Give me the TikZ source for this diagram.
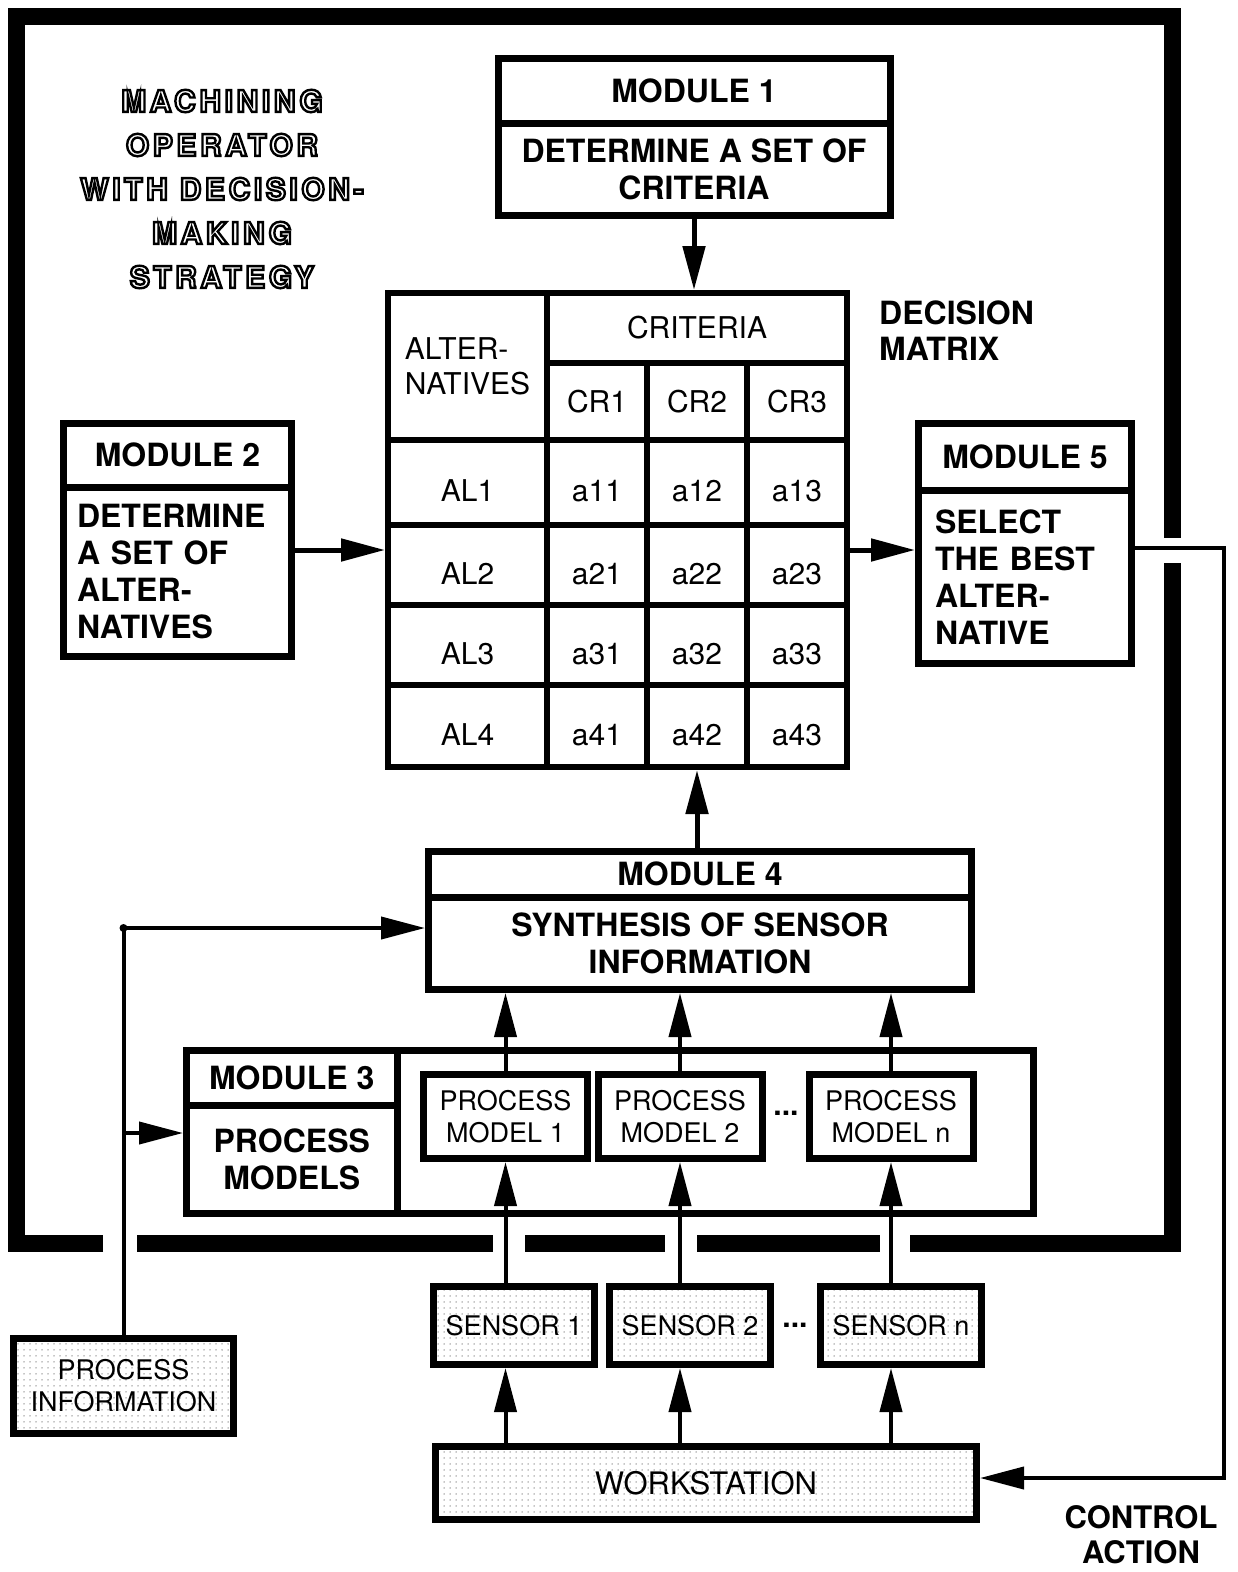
\documentclass[tikz,border=0pt]{standalone}
\usepackage{fontspec}
\setmainfont{TeX Gyre Heros}
\newfontfamily\titlefont[LetterSpace=12]{TeX Gyre Heros}
\usetikzlibrary{arrows.meta,patterns.meta}

% hollow lettering: glyph outlines stroked, not filled
\newcommand\hollow[1]{%
  \special{pdf:literal direct 1 Tr 2.4 w}#1\special{pdf:literal direct 0 Tr}}

\tikzset{
  modbox/.style={draw, line width=7pt, inner sep=0pt,
    font=\fontsize{32}{37}\selectfont\bfseries, align=center},
  mcell/.style={draw, line width=6pt, inner sep=0pt,
    font=\fontsize{30}{35}\selectfont, align=left},
  dcell/.style={mcell, text height=38pt, text depth=0pt},
  pmbox/.style={draw, line width=7pt, inner sep=0pt, minimum width=164pt,
    minimum height=84pt, align=center, font=\fontsize{27}{32}\selectfont},
  stipple/.style={pattern={Dots[distance=6pt,radius=0.75pt]}, pattern color=black!45},
  sensbox/.style={pmbox, stipple, minimum width=161pt, minimum height=78pt},
  tip/.style={-{Triangle[length=44pt,width=22pt]}},
  bigarrow/.style={line width=5pt, tip},
  thinarrow/.style={line width=4pt, tip},
  frameline/.style={line width=17pt, line cap=butt, line join=miter},
  label/.style={font=\fontsize{32}{36}\selectfont\bfseries, align=left, inner sep=0pt},
  heading/.style={align=center, inner sep=0pt,
    font=\titlefont\bfseries\fontsize{30}{44}\selectfont}
}

\begin{document}
\begin{tikzpicture}[x=1pt,y=-1pt]
\useasboundingbox (0,0) rectangle (1238,1572);

% outer frame of the operator
\draw[frameline] (103,1243.5) -- (16.5,1243.5) -- (16.5,16.5) -- (1172,16.5) -- (1172,538);
\draw[frameline] (1172,563) -- (1172,1243.5) -- (910,1243.5);
\draw[frameline] (137,1243.5) -- (493,1243.5);
\draw[frameline] (525,1243.5) -- (665,1243.5);
\draw[frameline] (697,1243.5) -- (880,1243.5);

% heading in hollow letters
\node[heading] (title) at (222,189)
  {\hollow{MACHINING}\\\hollow{OPERATOR}\\\hollow{WITH DECISION-}\\\hollow{MAKING}\\\hollow{STRATEGY}};

% module 1
\node[modbox, minimum width=392pt, minimum height=65pt] (m1h) at (694,90.5) {MODULE 1};
\node[modbox, minimum width=392pt, minimum height=92pt] (m1b) at (694,169)
  {DETERMINE A SET OF\\CRITERIA};

% module 2
\node[modbox, minimum width=228pt, minimum height=63.5pt] (m2h) at (177.5,455.25) {MODULE 2};
\node[modbox, minimum width=228pt, minimum height=169.5pt, align=left, text width=201pt]
  (m2b) at (177.5,571.75) {DETERMINE\\A SET OF\\ALTER-\\NATIVES};

% module 5
\node[modbox, minimum width=213pt, minimum height=66.5pt] (m5h) at (1025,456.75) {MODULE 5};
\node[modbox, minimum width=213pt, minimum height=173.5pt, align=left, text width=180pt]
  (m5b) at (1025,576.75) {SELECT\\THE BEST\\ALTER-\\NATIVE};

% decision matrix
\node[mcell, minimum width=159pt, minimum height=147pt] (alt) at (467.5,366.5) {ALTER-\\NATIVES};
\node[mcell, minimum width=300pt, minimum height=70pt] (crit) at (697,328) {CRITERIA};
\node[mcell, minimum width=100pt, minimum height=77pt] (cr1) at (597,401.5) {CR1};
\node[mcell, minimum width=100pt, minimum height=77pt] (cr2) at (697,401.5) {CR2};
\node[mcell, minimum width=100pt, minimum height=77pt] (cr3) at (797,401.5) {CR3};

\node[dcell, minimum width=159pt, minimum height=85pt] (al1) at (467.5,482.5) {AL1};
\node[dcell, minimum width=100pt, minimum height=85pt] (a11) at (597,482.5) {a11};
\node[dcell, minimum width=100pt, minimum height=85pt] (a12) at (697,482.5) {a12};
\node[dcell, minimum width=100pt, minimum height=85pt] (a13) at (797,482.5) {a13};

\node[dcell, minimum width=159pt, minimum height=80pt] (al2) at (467.5,565) {AL2};
\node[dcell, minimum width=100pt, minimum height=80pt] (a21) at (597,565) {a21};
\node[dcell, minimum width=100pt, minimum height=80pt] (a22) at (697,565) {a22};
\node[dcell, minimum width=100pt, minimum height=80pt] (a23) at (797,565) {a23};

\node[dcell, minimum width=159pt, minimum height=80pt] (al3) at (467.5,645) {AL3};
\node[dcell, minimum width=100pt, minimum height=80pt] (a31) at (597,645) {a31};
\node[dcell, minimum width=100pt, minimum height=80pt] (a32) at (697,645) {a32};
\node[dcell, minimum width=100pt, minimum height=80pt] (a33) at (797,645) {a33};

\node[dcell, minimum width=159pt, minimum height=82pt] (al4) at (467.5,726) {AL4};
\node[dcell, minimum width=100pt, minimum height=82pt] (a41) at (597,726) {a41};
\node[dcell, minimum width=100pt, minimum height=82pt] (a42) at (697,726) {a42};
\node[dcell, minimum width=100pt, minimum height=82pt] (a43) at (797,726) {a43};

\node[label, anchor=west] (dm) at (879,331) {DECISION\\MATRIX};

% module 4
\node[modbox, minimum width=543pt, minimum height=45.5pt] (m4h) at (700,874.25) {MODULE 4};
\node[modbox, minimum width=543pt, minimum height=92.5pt] (m4b) at (700,943.25)
  {SYNTHESIS OF SENSOR\\INFORMATION};

% module 3 with its process models
\node[draw, line width=7pt, minimum width=847pt, minimum height=163pt] (m3) at (610,1132) {};
\node[modbox, minimum width=210.5pt, minimum height=54.5pt] (m3h) at (291.75,1077.75) {MODULE 3};
\node[modbox, minimum width=210.5pt, minimum height=108.5pt] (m3b) at (291.75,1159.25)
  {PROCESS\\MODELS};
\node[pmbox] (pm1) at (505.5,1116.5) {PROCESS\\MODEL 1};
\node[pmbox] (pm2) at (680,1116.5) {PROCESS\\MODEL 2};
\node[pmbox] (pmn) at (891,1116.5) {PROCESS\\MODEL n};
\node[font=\fontsize{30}{32}\selectfont\bfseries, inner sep=0pt] (pmdots) at (786,1113) {...};

% sensors, workstation, process information
\node[sensbox] (s1) at (514,1325.5) {SENSOR 1};
\node[sensbox] (s2) at (690,1325.5) {SENSOR 2};
\node[sensbox] (sn) at (901,1325.5) {SENSOR n};
\node[font=\fontsize{30}{32}\selectfont\bfseries, inner sep=0pt] (sdots) at (795,1325) {...};

\node[draw, line width=7pt, stipple, minimum width=541pt, minimum height=73pt,
  font=\fontsize{31}{36}\selectfont] (ws) at (706,1483) {WORKSTATION};
\node[pmbox, stipple, minimum width=220pt, minimum height=95pt] (pi) at (123.5,1386)
  {PROCESS\\INFORMATION};

\node[font=\fontsize{31}{35}\selectfont\bfseries, align=center, inner sep=0pt] (ca)
  at (1141,1535) {CONTROL\\ACTION};

% helper rows for horizontal connectors
\coordinate (r550) at (0,550);
\coordinate (r548) at (0,548);
\coordinate (r928) at (0,928);
\coordinate (r1133) at (0,1133);
\coordinate (r1478) at (0,1478);
\coordinate (xca) at (1224,0);

% connectors
\draw[bigarrow] (m1b.south) -- (m1b.south |- crit.north);
\draw[bigarrow] (m2b.east |- r550) -- (al2.west |- r550);
\draw[bigarrow] (a23.east |- r550) -- (m5b.west |- r550);
\draw[bigarrow] (m4h.north -| a42.south) -- (a42.south);

\draw[thinarrow] (pm1.north) -- (pm1.north |- m4b.south);
\draw[thinarrow] (pm2.north) -- (pm2.north |- m4b.south);
\draw[thinarrow] (pmn.north) -- (pmn.north |- m4b.south);

\draw[thinarrow] (s1.north -| pm1.south) -- (pm1.south);
\draw[thinarrow] (s2.north -| pm2.south) -- (pm2.south);
\draw[thinarrow] (sn.north -| pmn.south) -- (pmn.south);

\draw[thinarrow] (ws.north -| pm1.south) -- (s1.south -| pm1.south);
\draw[thinarrow] (ws.north -| pm2.south) -- (s2.south -| pm2.south);
\draw[thinarrow] (ws.north -| pmn.south) -- (sn.south -| pmn.south);

\draw[thinarrow, line join=miter] (pi.north) -- (pi.north |- r928) -- (m4b.west |- r928);
\fill (pi.north |- r928) circle (4pt);
\draw[thinarrow] (pi.north |- r1133) -- (m3.west |- r1133);

\draw[thinarrow, line join=miter] (m5b.east |- r548) -- (xca |- r548) -- (xca |- r1478) -- (ws.east |- r1478);

\end{tikzpicture}
\end{document}
